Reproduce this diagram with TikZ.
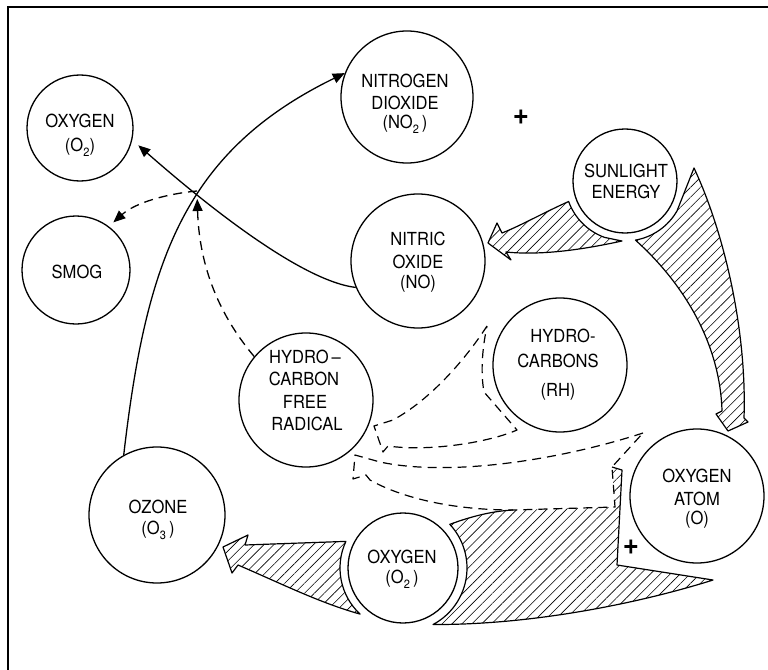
\documentclass[tikz,border=0pt]{standalone}
\usepackage{fontspec}
\setmainfont[FakeStretch=0.92]{TeX Gyre Heros}
\usetikzlibrary{arrows.meta,patterns.meta,calc}
\newcommand\lowsub[1]{\raisebox{-0.28em}{\fontsize{12bp}{12bp}\selectfont #1}}
\begin{document}
\begin{tikzpicture}[x=1bp,y=-1bp,
  bub/.style={draw,circle,inner sep=0,line width=1.3bp},
  lbl/.style={anchor=base,inner sep=0,font=\fontsize{18bp}{21bp}\selectfont},
  plussign/.style={inner sep=0,font=\fontsize{30bp}{30bp}\selectfont\bfseries},
  conn/.style={line width=1.3bp,-{Triangle[length=12bp,width=10bp]}},
  dconn/.style={conn,dash pattern=on 9bp off 6bp},
  hatch/.style={pattern={Lines[angle=45,distance=7bp,line width=0.6bp]}},
  hedge/.style={line width=1.2bp,line join=round},
  dedge/.style={line width=1.2bp,dash pattern=on 9bp off 6bp,line join=round}
]
\useasboundingbox (0,0) rectangle (768,670);
\fill[white] (0,0) rectangle (768,670);
\draw[line width=2bp] (8,670) -- (8,7) -- (768,7);

% circles
\node[bub,minimum size=106bp] (o2top) at (80,128) {};
\node[bub,minimum size=108bp] (smog) at (76,270) {};
\node[bub,minimum size=132bp] (no2) at (407,97) {};
\node[bub,minimum size=104bp] (sun) at (625,181) {};
\node[bub,minimum size=134bp] (no) at (418,261) {};
\node[bub,minimum size=134bp] (rh) at (560,365) {};
\node[bub,minimum size=134bp] (hcfr) at (306,400) {};
\node[bub,minimum size=136bp] (ozone) at (157,515) {};
\node[bub,minimum size=110bp] (o2bot) at (403,568) {};
\node[bub,minimum size=134bp] (oatom) at (697,496) {};

% labels
\node[lbl] (t-o2a) at (80,128) {OXYGEN};
\node[lbl] (t-o2b) at (80,151.5) {(O\lowsub{2})};
\node[lbl] (t-smog) at (77,278) {SMOG};
\node[lbl] (t-no2a) at (405,88) {NITROGEN};
\node[lbl] (t-no2b) at (405,110) {DIOXIDE};
\node[lbl] (t-no2c) at (405,128.5) {(NO\lowsub{2}\,)};
\node[lbl] (t-suna) at (626,177) {SUNLIGHT};
\node[lbl] (t-sunb) at (626,198) {ENERGY};
\node[lbl] (t-noa) at (418,245) {NITRIC};
\node[lbl] (t-nob) at (418,268) {OXIDE};
\node[lbl] (t-noc) at (418,288.5) {(NO)};
\node[lbl] (t-rha) at (563,342) {HYDRO-};
\node[lbl] (t-rhb) at (558,367) {CARBONS};
\node[lbl] (t-rhc) at (558,396.5) {(RH)};
\node[lbl] (t-hca) at (305,363) {HYDRO\,–};
\node[lbl] (t-hcb) at (304,385) {CARBON};
\node[lbl] (t-hcc) at (305,408) {FREE};
\node[lbl] (t-hcd) at (307,430) {RADICAL};
\node[lbl] (t-oza) at (158,513) {OZONE};
\node[lbl] (t-ozb) at (158,534.5) {(O\lowsub{3}\,)};
\node[lbl] (t-o2c) at (402,563) {OXYGEN};
\node[lbl] (t-o2d) at (402,583.5) {(O\lowsub{2}\,)};
\node[lbl] (t-oaa) at (697,482) {OXYGEN};
\node[lbl] (t-oab) at (697,505) {ATOM};
\node[lbl] (t-oac) at (697,524.5) {(O)};

\node[plussign] (plus1) at (521,117) {+};
\node[plussign] (plus2) at (631,547) {+};

% hatched arrows
\draw[hatch,hedge] (622,241) -- ($(sun.center)+(110:60)$) arc[start angle=110,end angle=160,radius=60]
  .. controls (545,212) and (520,226) .. (502,233) -- (497,223) -- (488,243) -- (511,260) -- (506,252)
  .. controls (545,256) and (590,248) .. (622,241) -- cycle;
\draw[hatch,hedge] (694,168) -- ($(sun.center)+(30:60)$) arc[start angle=30,end angle=80,radius=60]
  .. controls (680,280) and (720,340) .. (722,411) -- (716,414) -- (728,431) -- (748,422) -- (744,418)
  .. controls (747,330) and (724,232) .. (694,168) -- cycle;
\fill[hatch] (450,524) .. controls (475,515) and (495,511) .. (513,510) -- (615,507) -- (612,467) -- (622,470)
  -- (617,565) -- (713,580) .. controls (650,600) and (540,625) .. ($(o2bot.center)+(62:64)$)
  arc[start angle=62,end angle=-43,radius=64] -- cycle;
\draw[hedge] (612,467) -- (622,470) -- (617,565) -- (713,580) .. controls (650,600) and (540,625) ..
  ($(o2bot.center)+(62:64)$) arc[start angle=62,end angle=-43,radius=64]
  .. controls (475,515) and (495,511) .. (513,510);
\draw[hatch,hedge] ($(o2bot.center)+(205:63)$) -- (245,545) -- (248,535) -- (223,547) -- (232,573) -- (238,565)
  .. controls (280,583) and (320,603) .. ($(o2bot.center)+(133:63)$)
  arc[start angle=133,end angle=205,radius=63] -- cycle;

% dashed open arrows
\draw[dedge] (487,326) .. controls (465,360) and (430,400) .. (393,420) -- (374,426) -- (383,452) -- (388,446)
  .. controls (430,452) and (490,442) .. (517,430) -- (484,392) .. controls (480,370) and (483,345) .. (487,326) -- cycle;
\draw[dedge] (643,433) .. controls (560,460) and (450,477) .. (380,462) -- (355,455) -- (353,479) -- (366,475) -- (370,480)
  .. controls (400,497) and (450,510) .. (513,510) -- (615,507) -- (612,467) -- cycle;

% connectors
\coordinate (X) at (197,191);
\draw[conn] (ozone.119) .. controls (146,263) and (183,152) .. (no2.159);
\draw[conn,shorten >=8bp] (no.203) .. controls (293,280) and (178,180) .. (o2top.-13);
\draw[dconn,shorten >=6bp] (X) .. controls (165,194) and (135,203) .. (smog.53);
\draw[dconn,shorten >=8bp] (hcfr.140) .. controls (215,310) and (199,260) .. (X);
\end{tikzpicture}
\end{document}
